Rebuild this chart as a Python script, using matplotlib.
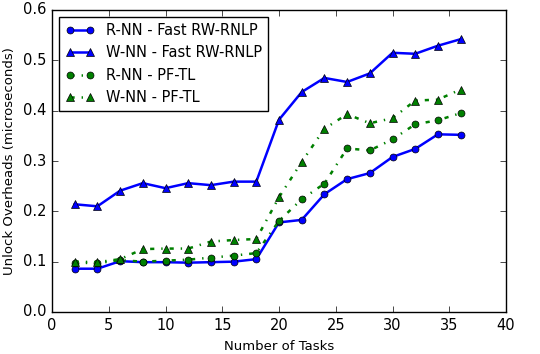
import matplotlib
matplotlib.use("Agg")
import matplotlib.pyplot as plt

tasks = [2, 4, 6, 8, 10, 12, 14, 16, 18, 20, 22, 24, 26, 28, 30, 32, 34, 36]
r_nn_fast = [0.086, 0.086, 0.101, 0.099, 0.099, 0.098, 0.099, 0.100, 0.105, 0.178, 0.183, 0.234, 0.264, 0.276, 0.308, 0.324, 0.353, 0.352]
w_nn_fast = [0.214, 0.210, 0.241, 0.256, 0.246, 0.256, 0.252, 0.259, 0.259, 0.382, 0.437, 0.465, 0.457, 0.474, 0.515, 0.513, 0.529, 0.542]
r_nn_pf = [0.098, 0.097, 0.103, 0.100, 0.102, 0.104, 0.108, 0.112, 0.117, 0.181, 0.224, 0.255, 0.325, 0.321, 0.343, 0.373, 0.381, 0.395]
w_nn_pf = [0.100, 0.099, 0.105, 0.125, 0.126, 0.126, 0.140, 0.143, 0.145, 0.228, 0.298, 0.364, 0.393, 0.375, 0.385, 0.420, 0.422, 0.442]

labels = ["R-NN - Fast RW-RNLP", "W-NN - Fast RW-RNLP", "R-NN - PF-TL", "W-NN - PF-TL"]

plt.style.use("classic")
fig = plt.figure(figsize=(5.4, 3.54), dpi=100, facecolor="white")
ax = fig.add_axes([52/540, 1 - 312/354, (506-52)/540, (312-10)/354])

ax.plot(tasks, r_nn_fast, color="blue", linestyle="-", linewidth=1.8, marker="o", markersize=5, markerfacecolor="blue", label=labels[0])
ax.plot(tasks, w_nn_fast, color="blue", linestyle="-", linewidth=1.8, marker="^", markersize=5.5, markerfacecolor="blue", label=labels[1])
ax.plot(tasks, r_nn_pf, color="green", linestyle="-.", linewidth=1.8, marker="o", markersize=5, markerfacecolor="green", label=labels[2])
ax.plot(tasks, w_nn_pf, color="green", linestyle="-.", linewidth=1.8, marker="^", markersize=5.5, markerfacecolor="green", label=labels[3])

ax.set_xlim(0, 40)
ax.set_ylim(0, 0.6)
ax.set_xticks(range(0, 41, 5))
ax.set_yticks([0.0, 0.1, 0.2, 0.3, 0.4, 0.5, 0.6])
ax.set_yticklabels(["0.0", "0.1", "0.2", "0.3", "0.4", "0.5", "0.6"])
ax.tick_params(labelsize=10.5)
ax.set_xlabel("Number of Tasks", fontsize=9.5)
ax.set_ylabel("Unlock Overheads (microseconds)", fontsize=9.5)
leg = ax.legend(loc="upper left", fontsize=10.5, numpoints=2, borderaxespad=0.5)
fig.savefig("out.png", dpi=100, facecolor="white")
